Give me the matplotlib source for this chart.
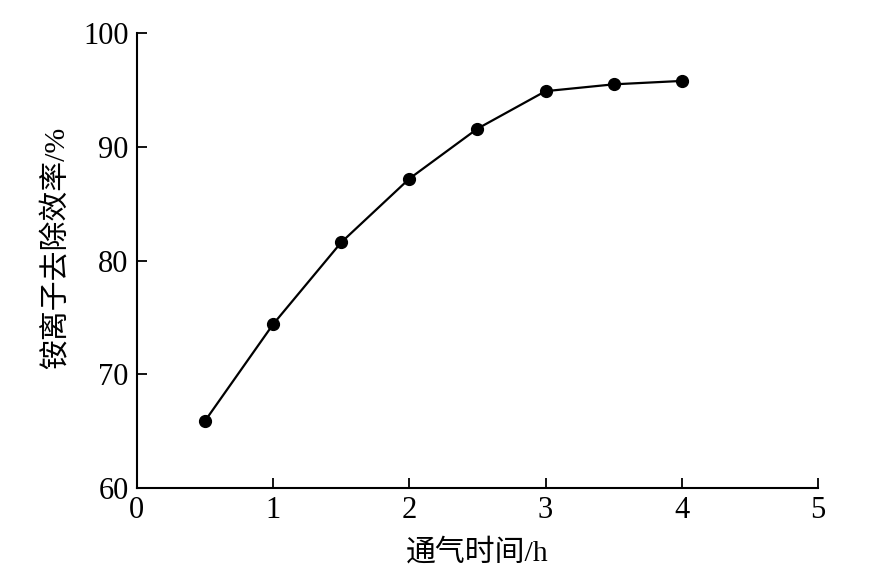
import matplotlib
matplotlib.use("Agg")
import matplotlib.pyplot as plt

x_hours = [0.5, 1.0, 1.5, 2.0, 2.5, 3.0, 3.5, 4.0]
removal_pct = [65.9, 74.4, 81.6, 87.2, 91.6, 94.9, 95.5, 95.8]
x_ticks = [0, 1, 2, 3, 4, 5]
y_ticks = [60, 70, 80, 90, 100]

plt.rcParams['font.family'] = ['Liberation Serif', 'Noto Sans CJK SC']

fig = plt.figure(figsize=(8.72, 5.82), dpi=100)
ax = fig.add_axes([0.157, 0.1615, 0.781, 0.7815])
ax.plot(x_hours, removal_pct, color='black', linewidth=1.6, marker='o',
        markersize=8.5, markerfacecolor='black', markeredgecolor='black')
ax.set_xlim(0, 5)
ax.set_ylim(60, 100)
ax.set_xticks(x_ticks)
ax.set_yticks(y_ticks)
ax.spines['top'].set_visible(False)
ax.spines['right'].set_visible(False)
for s in ('left', 'bottom'):
    ax.spines[s].set_linewidth(1.5)
ax.tick_params(direction='in', length=7, width=1.3, labelsize=22)
ax.tick_params(axis='x', pad=6)
ax.tick_params(axis='y', pad=6)
ax.set_xlabel('通气时间/h', fontsize=21.5, labelpad=10)
ax.set_ylabel('铵离子去除效率/%', fontsize=21.5)
ax.yaxis.set_label_coords(-0.098, 0.527)
fig.savefig('out.png', dpi=100)
